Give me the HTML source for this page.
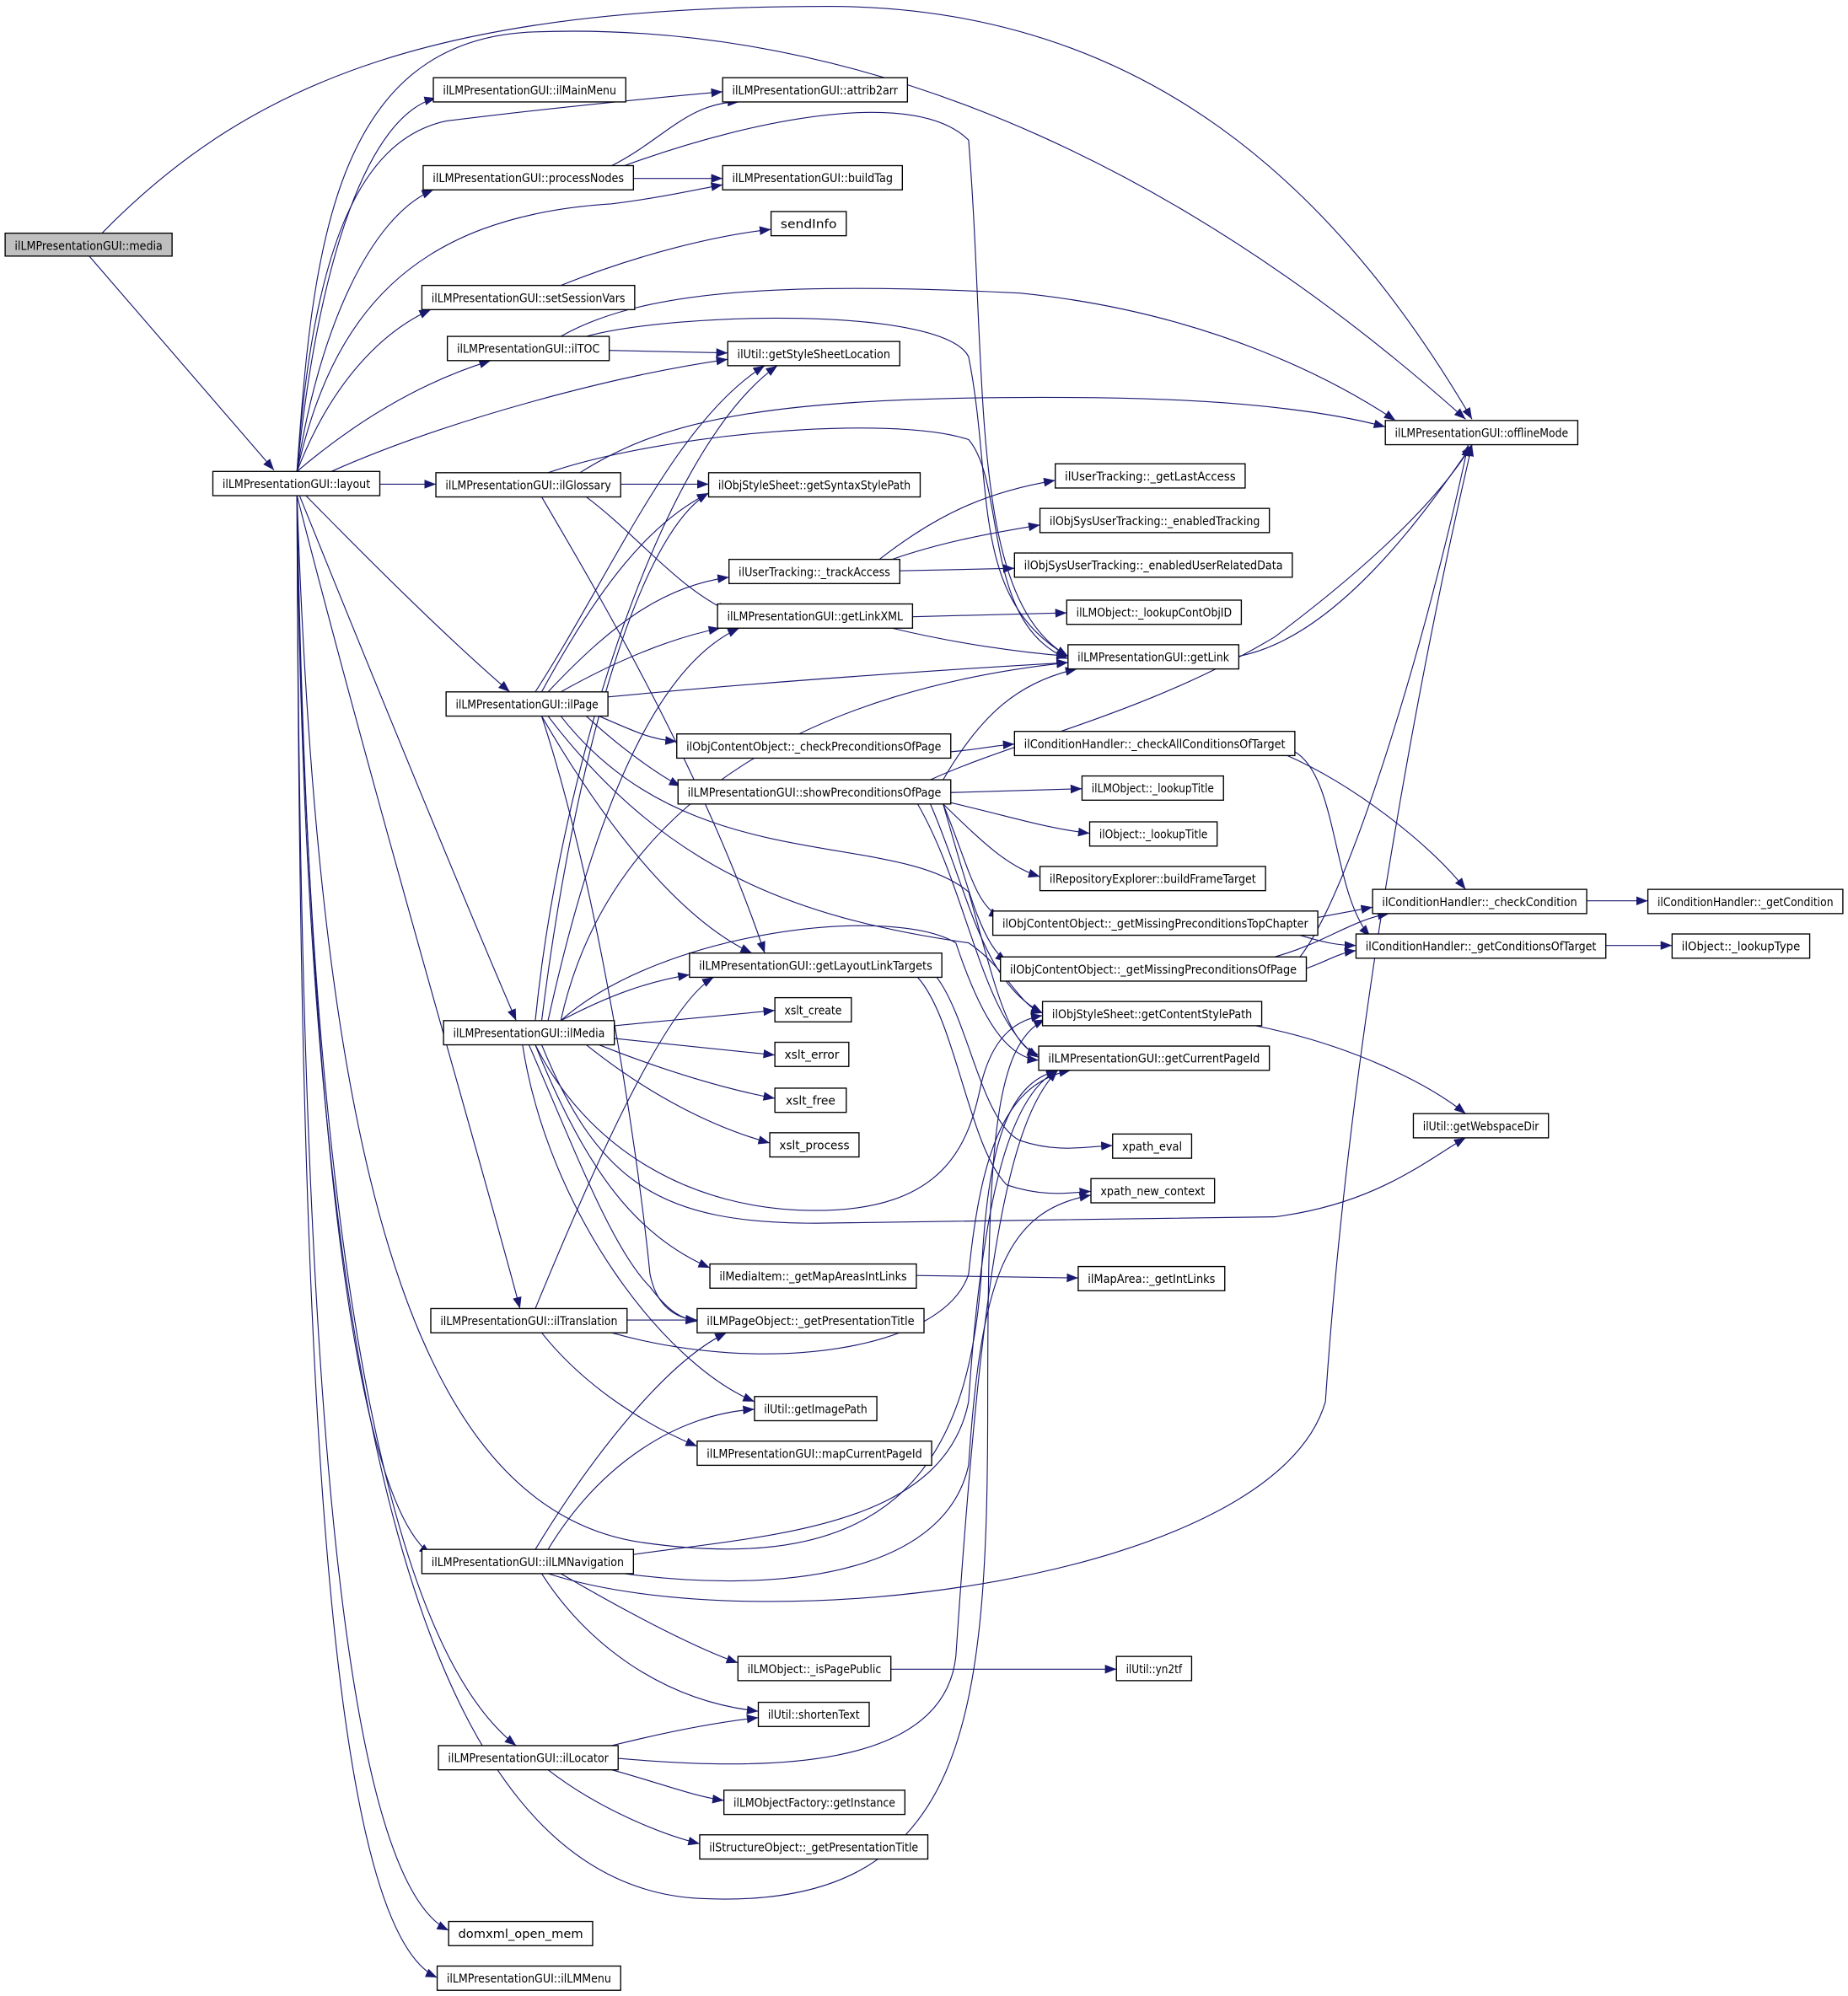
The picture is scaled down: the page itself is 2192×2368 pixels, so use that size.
<!DOCTYPE html>
<html><head><meta charset="utf-8"><style>
html,body{margin:0;padding:0;background:#fff;}
svg{display:block;}
text{font-family:"DejaVu Sans","Liberation Sans",sans-serif;font-size:9.2px;fill:#000;}
.e{fill:none;stroke:#191970;stroke-width:0.75;}
rect{fill:#fff;stroke:#000;stroke-width:0.9;}
</style></head><body>
<svg width="2192" height="2368" viewBox="0 0 1450 1566.5" xmlns="http://www.w3.org/2000/svg">
<defs><marker id="a" markerUnits="userSpaceOnUse" markerWidth="9" markerHeight="7" refX="9" refY="3.5" orient="auto"><path d="M0,0 L9,3.5 L0,7 z" fill="#191970"/></marker></defs>
<g class="e" marker-end="url(#a)">
<path d="M70,201 L215,369"/>
<path d="M80,183 C200,60 350,5 650,5 C900,5 1050,150 1155,329"/>
<path d="M233,370 C245,200 260,30 420,25 C700,15 950,150 1150,329"/>
<path d="M233,370 C250,200 290,90 342,77"/>
<path d="M233,370 C245,200 280,110 350,95 C430,85 500,78 567,72"/>
<path d="M233,370 C250,260 290,170 340,149"/>
<path d="M233,370 C260,250 320,170 480,160 C520,155 550,148 567,145"/>
<path d="M233,370 C260,300 300,260 338,243"/>
<path d="M233,370 C280,330 330,300 385,283"/>
<path d="M260,370 C350,330 480,295 571,282"/>
<path d="M298,380 L342,380"/>
<path d="M240,389 C290,440 350,500 400,543"/>
<path d="M235,389 C300,550 370,720 405,801"/>
<path d="M233,389 C300,650 380,920 408,1027"/>
<path d="M233,389 C240,800 270,1170 338,1220"/>
<path d="M233,389 C240,900 290,1280 405,1370"/>
<path d="M233,389 C235,1000 260,1470 352,1515"/>
<path d="M233,389 C235,1000 250,1510 343,1552"/>
<path d="M233,389 C250,900 320,1180 500,1210 C700,1240 760,1150 770,1000 C775,900 790,850 830,840"/>
<path d="M233,389 C240,1100 330,1480 550,1490 C760,1500 775,1350 775,1100 C775,900 780,820 820,800"/>
<path d="M480,130 C520,110 540,80 580,80"/>
<path d="M497,140 L567,140"/>
<path d="M490,130 C600,90 720,70 760,110 C775,300 760,470 838,515"/>
<path d="M440,224 C500,200 560,185 605,180"/>
<path d="M440,264 C500,230 600,220 800,230 C950,245 1050,300 1095,330"/>
<path d="M478,275 L571,277"/>
<path d="M460,264 C530,245 740,240 760,280 C780,380 760,470 838,515"/>
<path d="M455,371 C520,330 600,310 850,312 C980,313 1050,325 1087,335"/>
<path d="M430,371 C520,340 700,325 760,345 C790,380 770,490 838,517"/>
<path d="M487,380 L556,380"/>
<path d="M460,390 C500,420 530,460 572,480"/>
<path d="M425,390 C460,450 550,600 600,748"/>
<path d="M690,439 C740,400 780,385 828,377"/>
<path d="M700,439 C740,425 780,418 816,412"/>
<path d="M706,448 L796,446"/>
<path d="M716,484 L837,481"/>
<path d="M700,493 C750,505 800,512 838,515"/>
<path d="M972,515 C1050,500 1120,400 1155,349"/>
<path d="M420,543 C480,450 530,330 600,287"/>
<path d="M425,543 C470,460 510,410 556,387"/>
<path d="M430,543 C480,490 520,460 572,453"/>
<path d="M440,543 C490,515 530,500 565,493"/>
<path d="M477,547 C600,535 750,525 838,520"/>
<path d="M470,562 C500,575 510,580 531,582"/>
<path d="M460,562 C490,590 520,610 534,617"/>
<path d="M425,562 C470,640 530,720 590,748"/>
<path d="M430,562 C520,680 620,720 760,740 C790,760 800,790 818,795"/>
<path d="M440,562 C540,690 700,650 760,700 C780,770 790,820 815,828"/>
<path d="M425,562 C470,700 500,900 510,1000 C515,1025 530,1035 547,1036"/>
<path d="M746,590 C770,588 780,585 796,584"/>
<path d="M1010,593 C1060,615 1120,660 1150,698"/>
<path d="M1016,590 C1050,610 1045,700 1075,735"/>
<path d="M730,612 C800,580 900,560 1000,500 C1080,440 1130,390 1155,349"/>
<path d="M740,612 C770,560 800,535 845,525"/>
<path d="M746,622 L849,619"/>
<path d="M746,630 C790,640 820,650 855,654"/>
<path d="M740,631 C770,660 790,680 816,688"/>
<path d="M740,631 C760,680 765,710 785,720"/>
<path d="M740,631 C760,700 770,740 790,755"/>
<path d="M730,631 C760,700 770,770 818,795"/>
<path d="M720,631 C760,700 770,800 815,830"/>
<path d="M1034,720 L1077,712"/>
<path d="M1020,734 C1040,740 1050,742 1064,742"/>
<path d="M1000,751 C1040,740 1060,722 1090,717"/>
<path d="M1025,760 C1040,755 1050,748 1064,746"/>
<path d="M1020,751 C1060,700 1120,500 1152,349"/>
<path d="M1245,707 L1293,707"/>
<path d="M1260,742 L1312,742"/>
<path d="M735,767 C760,800 770,880 800,895 C830,905 850,900 873,899"/>
<path d="M720,767 C750,800 760,900 790,930 C820,940 840,936 856,935"/>
<path d="M985,805 C1060,820 1120,850 1150,874"/>
<path d="M440,801 C480,780 510,770 541,765"/>
<path d="M482,805 L608,793"/>
<path d="M482,815 L608,828"/>
<path d="M470,820 C520,840 570,855 608,862"/>
<path d="M460,820 C510,860 560,885 604,897"/>
<path d="M420,801 C440,600 520,350 610,287"/>
<path d="M425,801 C450,600 500,420 556,387"/>
<path d="M430,801 C470,620 520,520 580,493"/>
<path d="M440,801 C480,620 650,540 838,520"/>
<path d="M440,801 C520,730 700,710 750,740 C770,800 790,830 815,832"/>
<path d="M420,820 C460,900 540,950 640,950 C740,950 760,900 770,850 C780,810 800,800 818,797"/>
<path d="M425,820 C470,930 520,960 640,960 L1000,955 C1080,945 1120,910 1150,893"/>
<path d="M420,820 C460,920 500,970 557,995"/>
<path d="M415,820 C450,900 480,980 510,1010 C525,1030 535,1035 547,1037"/>
<path d="M410,820 C430,950 520,1070 592,1100"/>
<path d="M719,1001 L846,1003"/>
<path d="M420,1027 C460,930 520,790 560,767"/>
<path d="M492,1036 L547,1036"/>
<path d="M480,1046 C600,1080 740,1060 760,1000 C770,900 790,850 840,840"/>
<path d="M425,1046 C460,1090 510,1120 547,1135"/>
<path d="M420,1216 C460,1150 520,1070 570,1046"/>
<path d="M430,1216 C470,1150 530,1110 592,1106"/>
<path d="M497,1220 C600,1205 740,1200 760,1100 C770,950 790,860 830,840"/>
<path d="M490,1235 C600,1250 740,1240 760,1150 C770,1000 790,950 856,938"/>
<path d="M430,1235 C600,1290 1000,1240 1040,1100 C1060,800 1120,500 1155,349"/>
<path d="M440,1235 C500,1270 550,1295 579,1305"/>
<path d="M425,1235 C460,1290 520,1335 595,1343"/>
<path d="M699,1310 L876,1310"/>
<path d="M480,1370 C520,1360 560,1352 595,1348"/>
<path d="M485,1380 C600,1390 740,1390 750,1300 C770,1000 790,880 830,840"/>
<path d="M480,1389 C520,1400 545,1410 568,1413"/>
<path d="M430,1389 C470,1420 520,1440 549,1447"/>
</g>
<g>
<rect x="4" y="183" width="131" height="18" style="fill:#bfbfbf"/><text x="69.5" y="196" text-anchor="middle" textLength="116" lengthAdjust="spacingAndGlyphs">ilLMPresentationGUI::media</text>
<rect x="167" y="370" width="131" height="19"/><text x="232.5" y="383" text-anchor="middle" textLength="116" lengthAdjust="spacingAndGlyphs">ilLMPresentationGUI::layout</text>
<rect x="340" y="61" width="151" height="19"/><text x="415.5" y="74" text-anchor="middle" textLength="136" lengthAdjust="spacingAndGlyphs">ilLMPresentationGUI::ilMainMenu</text>
<rect x="567" y="61" width="145" height="19"/><text x="639.5" y="74" text-anchor="middle" textLength="130" lengthAdjust="spacingAndGlyphs">ilLMPresentationGUI::attrib2arr</text>
<rect x="332" y="130" width="165" height="19"/><text x="414.5" y="143" text-anchor="middle" textLength="150" lengthAdjust="spacingAndGlyphs">ilLMPresentationGUI::processNodes</text>
<rect x="567" y="130" width="141" height="19"/><text x="637.5" y="143" text-anchor="middle" textLength="126" lengthAdjust="spacingAndGlyphs">ilLMPresentationGUI::buildTag</text>
<rect x="605" y="166" width="59" height="19"/><text x="634.5" y="179" text-anchor="middle" textLength="44" lengthAdjust="spacingAndGlyphs">sendInfo</text>
<rect x="331" y="224" width="167" height="19"/><text x="414.5" y="237" text-anchor="middle" textLength="152" lengthAdjust="spacingAndGlyphs">ilLMPresentationGUI::setSessionVars</text>
<rect x="351" y="264" width="127" height="19"/><text x="414.5" y="277" text-anchor="middle" textLength="112" lengthAdjust="spacingAndGlyphs">ilLMPresentationGUI::ilTOC</text>
<rect x="571" y="268" width="135" height="19"/><text x="638.5" y="281" text-anchor="middle" textLength="120" lengthAdjust="spacingAndGlyphs">ilUtil::getStyleSheetLocation</text>
<rect x="1087" y="330" width="151" height="19"/><text x="1162.5" y="343" text-anchor="middle" textLength="136" lengthAdjust="spacingAndGlyphs">ilLMPresentationGUI::offlineMode</text>
<rect x="342" y="371" width="145" height="19"/><text x="414.5" y="384" text-anchor="middle" textLength="130" lengthAdjust="spacingAndGlyphs">ilLMPresentationGUI::ilGlossary</text>
<rect x="556" y="371" width="166" height="19"/><text x="639" y="384" text-anchor="middle" textLength="151" lengthAdjust="spacingAndGlyphs">ilObjStyleSheet::getSyntaxStylePath</text>
<rect x="828" y="364" width="149" height="19"/><text x="902.5" y="377" text-anchor="middle" textLength="134" lengthAdjust="spacingAndGlyphs">ilUserTracking::_getLastAccess</text>
<rect x="816" y="399" width="180" height="19"/><text x="906" y="412" text-anchor="middle" textLength="165" lengthAdjust="spacingAndGlyphs">ilObjSysUserTracking::_enabledTracking</text>
<rect x="572" y="439" width="134" height="19"/><text x="639" y="452" text-anchor="middle" textLength="119" lengthAdjust="spacingAndGlyphs">ilUserTracking::_trackAccess</text>
<rect x="796" y="434" width="218" height="19"/><text x="905" y="447" text-anchor="middle" textLength="203" lengthAdjust="spacingAndGlyphs">ilObjSysUserTracking::_enabledUserRelatedData</text>
<rect x="563" y="474" width="153" height="19"/><text x="639.5" y="487" text-anchor="middle" textLength="138" lengthAdjust="spacingAndGlyphs">ilLMPresentationGUI::getLinkXML</text>
<rect x="837" y="471" width="137" height="19"/><text x="905.5" y="484" text-anchor="middle" textLength="122" lengthAdjust="spacingAndGlyphs">ilLMObject::_lookupContObjID</text>
<rect x="838" y="506" width="134" height="19"/><text x="905" y="519" text-anchor="middle" textLength="119" lengthAdjust="spacingAndGlyphs">ilLMPresentationGUI::getLink</text>
<rect x="350" y="543" width="127" height="19"/><text x="413.5" y="556" text-anchor="middle" textLength="112" lengthAdjust="spacingAndGlyphs">ilLMPresentationGUI::ilPage</text>
<rect x="531" y="576" width="215" height="19"/><text x="638.5" y="589" text-anchor="middle" textLength="200" lengthAdjust="spacingAndGlyphs">ilObjContentObject::_checkPreconditionsOfPage</text>
<rect x="796" y="574" width="220" height="19"/><text x="906" y="587" text-anchor="middle" textLength="205" lengthAdjust="spacingAndGlyphs">ilConditionHandler::_checkAllConditionsOfTarget</text>
<rect x="532" y="612" width="214" height="19"/><text x="639" y="625" text-anchor="middle" textLength="199" lengthAdjust="spacingAndGlyphs">ilLMPresentationGUI::showPreconditionsOfPage</text>
<rect x="849" y="609" width="111" height="19"/><text x="904.5" y="622" text-anchor="middle" textLength="96" lengthAdjust="spacingAndGlyphs">ilLMObject::_lookupTitle</text>
<rect x="855" y="645" width="100" height="19"/><text x="905" y="658" text-anchor="middle" textLength="85" lengthAdjust="spacingAndGlyphs">ilObject::_lookupTitle</text>
<rect x="816" y="680" width="177" height="19"/><text x="904.5" y="693" text-anchor="middle" textLength="162" lengthAdjust="spacingAndGlyphs">ilRepositoryExplorer::buildFrameTarget</text>
<rect x="779" y="715" width="255" height="19"/><text x="906.5" y="728" text-anchor="middle" textLength="240" lengthAdjust="spacingAndGlyphs">ilObjContentObject::_getMissingPreconditionsTopChapter</text>
<rect x="1077" y="698" width="168" height="19"/><text x="1161" y="711" text-anchor="middle" textLength="153" lengthAdjust="spacingAndGlyphs">ilConditionHandler::_checkCondition</text>
<rect x="1293" y="698" width="153" height="19"/><text x="1369.5" y="711" text-anchor="middle" textLength="138" lengthAdjust="spacingAndGlyphs">ilConditionHandler::_getCondition</text>
<rect x="541" y="748" width="198" height="19"/><text x="640" y="761" text-anchor="middle" textLength="183" lengthAdjust="spacingAndGlyphs">ilLMPresentationGUI::getLayoutLinkTargets</text>
<rect x="785" y="751" width="240" height="19"/><text x="905" y="764" text-anchor="middle" textLength="225" lengthAdjust="spacingAndGlyphs">ilObjContentObject::_getMissingPreconditionsOfPage</text>
<rect x="1064" y="733" width="196" height="19"/><text x="1162" y="746" text-anchor="middle" textLength="181" lengthAdjust="spacingAndGlyphs">ilConditionHandler::_getConditionsOfTarget</text>
<rect x="1312" y="733" width="108" height="19"/><text x="1366" y="746" text-anchor="middle" textLength="93" lengthAdjust="spacingAndGlyphs">ilObject::_lookupType</text>
<rect x="608" y="783" width="60" height="19"/><text x="638" y="796" text-anchor="middle" textLength="45" lengthAdjust="spacingAndGlyphs">xslt_create</text>
<rect x="348" y="801" width="134" height="19"/><text x="415" y="814" text-anchor="middle" textLength="119" lengthAdjust="spacingAndGlyphs">ilLMPresentationGUI::ilMedia</text>
<rect x="818" y="786" width="172" height="19"/><text x="904" y="799" text-anchor="middle" textLength="157" lengthAdjust="spacingAndGlyphs">ilObjStyleSheet::getContentStylePath</text>
<rect x="608" y="818" width="58" height="19"/><text x="637" y="831" text-anchor="middle" textLength="43" lengthAdjust="spacingAndGlyphs">xslt_error</text>
<rect x="815" y="821" width="181" height="19"/><text x="905.5" y="834" text-anchor="middle" textLength="166" lengthAdjust="spacingAndGlyphs">ilLMPresentationGUI::getCurrentPageId</text>
<rect x="608" y="854" width="56" height="19"/><text x="636" y="867" text-anchor="middle" textLength="39" lengthAdjust="spacingAndGlyphs">xslt_free</text>
<rect x="1109" y="874" width="106" height="19"/><text x="1162" y="887" text-anchor="middle" textLength="91" lengthAdjust="spacingAndGlyphs">ilUtil::getWebspaceDir</text>
<rect x="604" y="889" width="70" height="19"/><text x="639" y="902" text-anchor="middle" textLength="55" lengthAdjust="spacingAndGlyphs">xslt_process</text>
<rect x="873" y="890" width="62" height="19"/><text x="904" y="903" text-anchor="middle" textLength="47" lengthAdjust="spacingAndGlyphs">xpath_eval</text>
<rect x="856" y="925" width="97" height="19"/><text x="904.5" y="938" text-anchor="middle" textLength="82" lengthAdjust="spacingAndGlyphs">xpath_new_context</text>
<rect x="557" y="992" width="162" height="19"/><text x="638" y="1005" text-anchor="middle" textLength="147" lengthAdjust="spacingAndGlyphs">ilMediaItem::_getMapAreasIntLinks</text>
<rect x="846" y="994" width="115" height="19"/><text x="903.5" y="1007" text-anchor="middle" textLength="100" lengthAdjust="spacingAndGlyphs">ilMapArea::_getIntLinks</text>
<rect x="338" y="1027" width="154" height="19"/><text x="415" y="1040" text-anchor="middle" textLength="139" lengthAdjust="spacingAndGlyphs">ilLMPresentationGUI::ilTranslation</text>
<rect x="547" y="1027" width="178" height="19"/><text x="636" y="1040" text-anchor="middle" textLength="163" lengthAdjust="spacingAndGlyphs">ilLMPageObject::_getPresentationTitle</text>
<rect x="592" y="1096" width="96" height="19"/><text x="640" y="1109" text-anchor="middle" textLength="81" lengthAdjust="spacingAndGlyphs">ilUtil::getImagePath</text>
<rect x="547" y="1131" width="184" height="19"/><text x="639" y="1144" text-anchor="middle" textLength="169" lengthAdjust="spacingAndGlyphs">ilLMPresentationGUI::mapCurrentPageId</text>
<rect x="331" y="1216" width="166" height="19"/><text x="414" y="1229" text-anchor="middle" textLength="151" lengthAdjust="spacingAndGlyphs">ilLMPresentationGUI::ilLMNavigation</text>
<rect x="579" y="1300" width="120" height="19"/><text x="639" y="1313" text-anchor="middle" textLength="105" lengthAdjust="spacingAndGlyphs">ilLMObject::_isPagePublic</text>
<rect x="876" y="1300" width="59" height="19"/><text x="905.5" y="1313" text-anchor="middle" textLength="44" lengthAdjust="spacingAndGlyphs">ilUtil::yn2tf</text>
<rect x="595" y="1336" width="87" height="19"/><text x="638.5" y="1349" text-anchor="middle" textLength="72" lengthAdjust="spacingAndGlyphs">ilUtil::shortenText</text>
<rect x="344" y="1370" width="141" height="19"/><text x="414.5" y="1383" text-anchor="middle" textLength="126" lengthAdjust="spacingAndGlyphs">ilLMPresentationGUI::ilLocator</text>
<rect x="568" y="1405" width="142" height="19"/><text x="639" y="1418" text-anchor="middle" textLength="127" lengthAdjust="spacingAndGlyphs">ilLMObjectFactory::getInstance</text>
<rect x="549" y="1440" width="179" height="19"/><text x="638.5" y="1453" text-anchor="middle" textLength="164" lengthAdjust="spacingAndGlyphs">ilStructureObject::_getPresentationTitle</text>
<rect x="352" y="1508" width="113" height="19"/><text x="408.5" y="1521" text-anchor="middle" textLength="98" lengthAdjust="spacingAndGlyphs">domxml_open_mem</text>
<rect x="343" y="1543" width="144" height="19"/><text x="415" y="1556" text-anchor="middle" textLength="129" lengthAdjust="spacingAndGlyphs">ilLMPresentationGUI::ilLMMenu</text>
</g>
</svg>
</body></html>
